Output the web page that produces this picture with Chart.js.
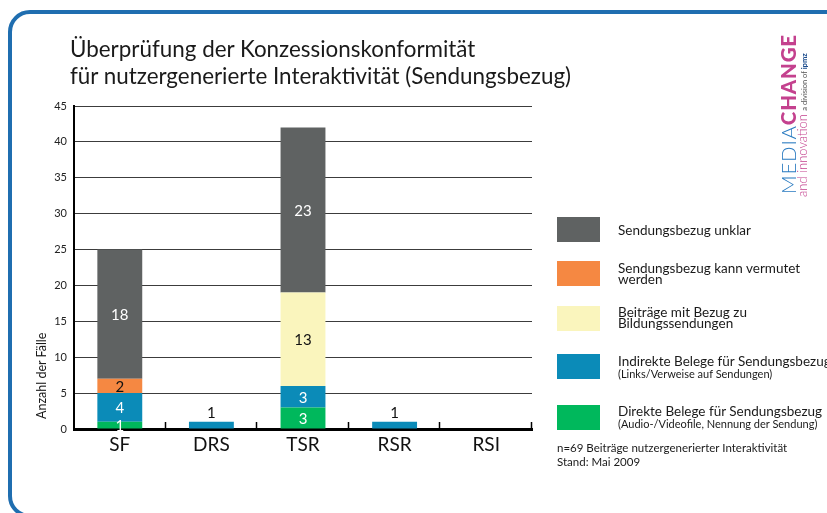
<!DOCTYPE html>
<html><head><meta charset="utf-8">
<script src="https://cdn.jsdelivr.net/npm/chart.js@4.4.1/dist/chart.umd.min.js"></script>
<style>
html,body{margin:0;padding:0;background:#fff;overflow:hidden;}
body{width:827px;height:513px;position:relative;font-family:Lato,"Open Sans",sans-serif;color:#1a1a1a;}
#frame{position:absolute;left:8px;top:10px;width:1000px;height:508px;border:4px solid #1f6eb0;border-radius:22px;box-sizing:border-box;}
#c{position:absolute;left:0;top:0;}
#title{position:absolute;left:70px;top:35px;font-size:22.4px;line-height:27px;white-space:nowrap;color:#1a1a1a;}
.lg{position:absolute;left:557px;width:43px;height:25px;}
.lt{position:absolute;left:618px;font-size:13.5px;line-height:11px;white-space:nowrap;}
.ls{position:absolute;left:618px;font-size:11px;line-height:11px;white-space:nowrap;}
#foot{position:absolute;left:557px;top:441px;font-size:11.5px;line-height:14px;white-space:nowrap;}
.rot{position:absolute;transform-origin:0 0;transform:rotate(-90deg);white-space:nowrap;}
</style></head>
<body>
<div id="frame"></div>
<canvas id="c" width="827" height="513"></canvas>
<div id="title">Überprüfung der Konzessionskonformität<br>für nutzergenerierte Interaktivität (Sendungsbezug)</div>
<div class="rot" style="left:36px;top:419px;font-size:12.5px;line-height:12px;">Anzahl der Fälle</div>

<div class="rot" style="left:779px;top:194px;font-size:20.5px;line-height:18px;letter-spacing:0.8px;"><span style="color:#2a7bc1;font-weight:300">MEDIA</span><span style="color:#c4418e;font-weight:900">CHANGE</span></div>
<div class="rot" style="left:796px;top:197px;font-size:13px;line-height:12px;"><span style="color:#c4418e;font-weight:300">and innovation</span> <span style="font-size:7.5px;color:#555">a division of <b style="color:#1f4f8f;font-weight:900">ipmz</b></span></div>

<div class="lg" style="top:217px;background:#5f6262"></div>
<div class="lt" style="top:225px">Sendungsbezug unklar</div>
<div class="lg" style="top:261px;background:#f58842"></div>
<div class="lt" style="top:263px">Sendungsbezug kann vermutet<br>werden</div>
<div class="lg" style="top:306px;background:#faf5bd"></div>
<div class="lt" style="top:307px">Beiträge mit Bezug zu<br>Bildungssendungen</div>
<div class="lg" style="top:354px;background:#0b8bb8"></div>
<div class="lt" style="top:356px">Indirekte Belege für Sendungsbezug</div>
<div class="ls" style="top:368px">(Links/Verweise auf Sendungen)</div>
<div class="lg" style="top:405px;background:#00b85c"></div>
<div class="lt" style="top:406px">Direkte Belege für Sendungsbezug</div>
<div class="ls" style="top:418px">(Audio-/Videofile, Nennung der Sendung)</div>
<div id="foot">n=69 Beiträge nutzergenerierter Interaktivität<br>Stand: Mai 2009</div>

<script>
const categories = ['SF','DRS','TSR','RSR','RSI'];
const seriesNames = ['Direkte Belege für Sendungsbezug','Indirekte Belege für Sendungsbezug','Beiträge mit Bezug zu Bildungssendungen','Sendungsbezug kann vermutet werden','Sendungsbezug unklar'];
const direkte   = [1,0,3,0,0];
const indirekte = [4,1,3,1,0];
const bildung   = [0,0,13,0,0];
const vermutet  = [2,0,0,0,0];
const unklar    = [18,0,23,0,0];
const yTicks = [0,5,10,15,20,25,30,35,40,45];

const seriesValues = [direkte, indirekte, bildung, vermutet, unklar];
const seriesColors = ['#00b85c','#0b8bb8','#faf5bd','#f58842','#5f6262'];
const labelColors  = ['#ffffff','#ffffff','#111111','#111111','#ffffff'];

const labelPlugin = {
  id:'labels',
  afterDatasetsDraw(chart){
    const c = chart.ctx;
    c.save();
    c.font = '15px Lato';
    c.textAlign = 'center';
    c.textBaseline = 'middle';
    chart.data.datasets.forEach((ds, di) => {
      const meta = chart.getDatasetMeta(di);
      meta.data.forEach((el, i) => {
        const v = ds.data[i];
        if (!v) return;
        const above = chart.data.datasets.slice(di+1).some(d => d.data[i] > 0);
        const h = Math.abs(el.base - el.y);
        if (h < 12 && !above) {
          c.fillStyle = '#111';
          c.fillText(String(v), el.x, el.y - 9);
        } else {
          c.fillStyle = labelColors[di];
          c.fillText(String(v), el.x, (el.y + el.base) / 2 + 1);
        }
      });
    });
    const a = chart.chartArea;
    const w = (a.right - a.left) / categories.length;
    c.strokeStyle = '#000';
    c.lineWidth = 1.5;
    for (let i = 1; i <= categories.length; i++) {
      const x = Math.round(a.left + i * w) - 0.5;
      c.beginPath(); c.moveTo(x, a.bottom - 7); c.lineTo(x, a.bottom); c.stroke();
    }
    c.restore();
  }
};

new Chart(document.getElementById('c'), {
  type:'bar',
  data:{
    labels: categories,
    datasets: seriesNames.map((n, i) => ({
      label: n, data: seriesValues[i], backgroundColor: seriesColors[i],
      borderWidth: 0, categoryPercentage: 1, barPercentage: 0.49
    }))
  },
  options:{
    responsive:false, animation:false, devicePixelRatio:1,
    layout:{padding:{left:0, top:106, right:295, bottom:0}},
    plugins:{legend:{display:false}, tooltip:{enabled:false}, title:{display:false}},
    scales:{
      x:{
        stacked:true,
        grid:{display:false, drawTicks:false},
        border:{display:true, color:'#000', width:3},
        ticks:{font:{family:'Lato', size:19}, color:'#111', padding:4},
        afterFit(s){ s.height = 84; }
      },
      y:{
        stacked:true, min:0, max:45,
        afterBuildTicks(s){ s.ticks = yTicks.map(v => ({value:v})); },
        ticks:{font:{family:'Lato', size:11}, color:'#222', padding:7},
        grid:{color:'#3c3c3c', lineWidth:1, drawTicks:false},
        border:{display:true, color:'#000', width:2},
        afterFit(s){ s.width = 74; }
      }
    }
  },
  plugins:[labelPlugin]
});
</script>
</body></html>
